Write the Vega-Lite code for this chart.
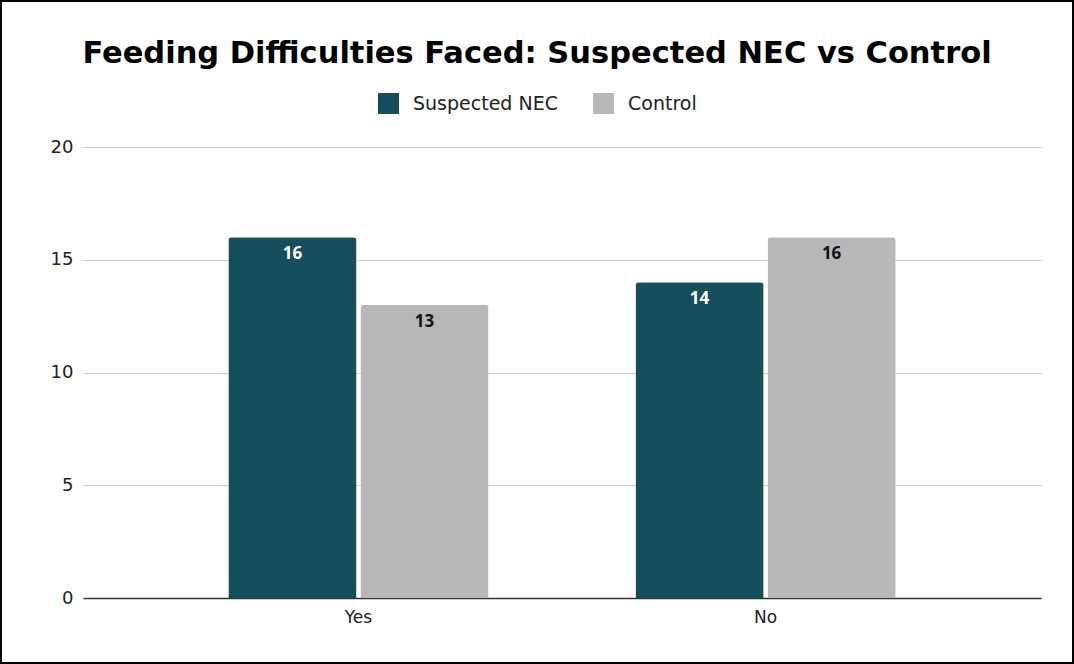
{
  "$schema": "https://vega.github.io/schema/vega-lite/v6.json",
  "autosize": {"type": "none"},
  "width": 1072,
  "height": 662,
  "padding": {"left": 1, "top": 1, "right": 1, "bottom": 1},
  "background": "#ffffff",
  "title": {
    "text": "Feeding Difficulties Faced: Suspected NEC vs Control",
    "font": "DejaVu Sans",
    "fontSize": 30.5,
    "fontWeight": "bold",
    "color": "#000000",
    "anchor": "middle",
    "frame": "group",
    "baseline": "alphabetic",
    "offset": -61,
    "dy": 31
  },
  "data": {
    "values": [
      {"answer": "Yes", "group": "Suspected NEC", "count": 16},
      {"answer": "Yes", "group": "Control", "count": 13},
      {"answer": "No", "group": "Suspected NEC", "count": 14},
      {"answer": "No", "group": "Control", "count": 16}
    ]
  },
  "encoding": {
    "x": {
      "field": "answer",
      "type": "nominal",
      "sort": ["Yes", "No"],
      "scale": {"range": [82, 1040], "paddingInner": 0.361, "paddingOuter": 0.357},
      "axis": {
        "title": null,
        "offset": -65,
        "labelAngle": 0,
        "labelFont": "DejaVu Sans",
        "labelFontSize": 17,
        "labelColor": "#222222",
        "labelPadding": 11,
        "ticks": false,
        "domain": true,
        "domainColor": "#333333",
        "domainWidth": 1.5
      }
    },
    "xOffset": {
      "field": "group",
      "type": "nominal",
      "sort": ["Suspected NEC", "Control"],
      "scale": {"paddingInner": 0.03, "paddingOuter": 0}
    },
    "y": {
      "field": "count",
      "type": "quantitative",
      "scale": {"domain": [0, 20], "range": [597, 146]},
      "axis": {
        "title": null,
        "offset": -82,
        "values": [0, 5, 10, 15, 20],
        "labelFont": "DejaVu Sans",
        "labelFontSize": 18,
        "labelColor": "#222222",
        "labelPadding": 10,
        "ticks": false,
        "domain": false,
        "gridColor": "#cccccc",
        "gridWidth": 1
      }
    }
  },
  "layer": [
    {
      "mark": {"type": "bar", "cornerRadiusTopLeft": 3, "cornerRadiusTopRight": 3},
      "encoding": {
        "color": {
          "field": "group",
          "type": "nominal",
          "sort": ["Suspected NEC", "Control"],
          "scale": {"domain": ["Suspected NEC", "Control"], "range": ["#154f5c", "#b7b7b7"]},
          "legend": {
            "title": null,
            "orient": "none",
            "direction": "horizontal",
            "legendX": 377,
            "legendY": 92,
            "symbolType": "square",
            "symbolSize": 441,
            "symbolStrokeWidth": 0,
            "labelFont": "DejaVu Sans",
            "labelFontSize": 19,
            "labelColor": "#222222",
            "labelOffset": 14,
            "columnPadding": 35
          }
        }
      }
    },
    {
      "mark": {"type": "text", "baseline": "middle", "dy": 17, "font": "Open Sans", "fontSize": 17, "fontWeight": "bold"},
      "encoding": {
        "text": {"field": "count", "type": "quantitative"},
        "color": {
          "condition": {"test": "datum.group === 'Suspected NEC'", "value": "#ffffff"},
          "value": "#111111"
        }
      }
    }
  ],
  "config": {"view": {"stroke": "#000000", "strokeWidth": 2}}
}
